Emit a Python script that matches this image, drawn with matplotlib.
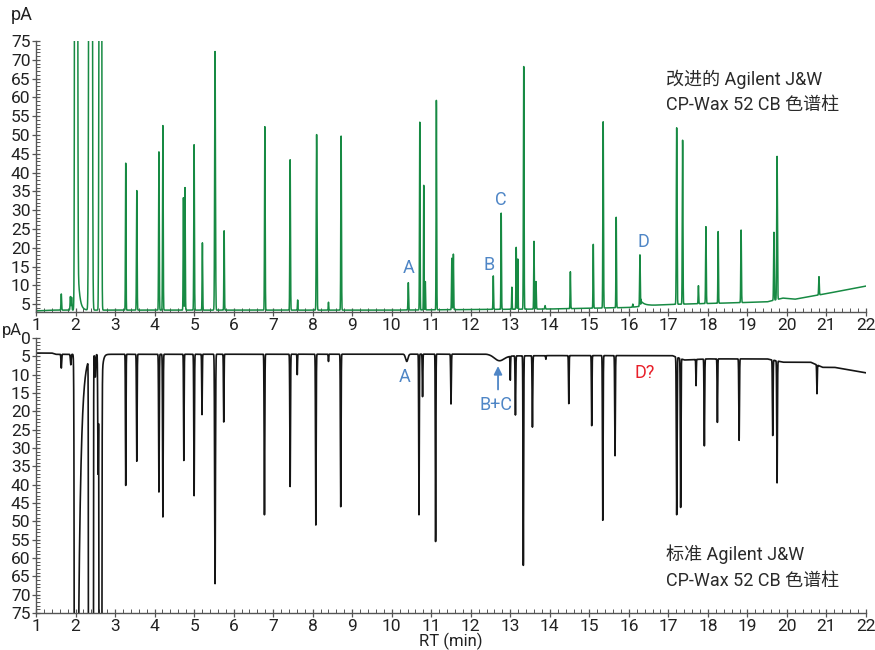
import numpy as np
import matplotlib
matplotlib.use('Agg')
import matplotlib.pyplot as plt
from matplotlib.ticker import MultipleLocator

plt.rcParams['font.family'] = ['Roboto', 'Noto Sans CJK SC', 'DejaVu Sans']

# ---- improved column (top, green) ----
top_rt = [1.64, 1.87, 1.90, 2.015, 2.38, 2.59, 2.63, 3.27, 3.55, 4.11, 4.21, 4.73, 4.77,
          5.00, 5.21, 5.53, 5.76, 6.79, 7.43, 7.62, 8.10, 8.40, 8.72, 10.42, 10.71, 10.81,
          10.85, 11.13, 11.52, 11.56, 12.57, 12.77, 13.04, 13.15, 13.19, 13.34, 13.60, 13.65,
          13.88, 14.52, 15.10, 15.35, 15.68, 16.10, 16.28, 17.21, 17.36, 17.76, 17.95, 18.26,
          18.84, 19.67, 19.75, 20.81]
top_apex = [7.7, 7.0, 6.8, 3000, 2000, 35, 2000, 42.5, 35.2, 45.5, 52.5, 33.3, 36.0,
            47.4, 21.3, 72.2, 24.5, 52.2, 43.4, 6.1, 50.1, 5.5, 49.7, 10.7, 53.4, 36.6,
            11.0, 59.2, 17.2, 18.3, 12.5, 29.2, 9.5, 20.1, 17.0, 68.2, 21.7, 11.0,
            4.6, 13.6, 20.9, 53.5, 28.1, 5.0, 18.1, 51.9, 48.6, 9.9, 25.6, 24.3,
            24.7, 24.1, 44.3, 12.3]
top_sigma = [.008, .008, .008, .016, .02, .008, .014, .007, .008, .008, .008, .007, .007,
             .008, .007, .01, .007, .008, .008, .006, .009, .006, .008, .008, .007, .006,
             .006, .007, .007, .007, .007, .007, .006, .007, .006, .008, .007, .008,
             .008, .007, .007, .008, .007, .006, .008, .009, .008, .007, .008, .007,
             .008, .008, .009, .008]
top_base_t = [1.0, 1.4, 10.0, 14.0, 16.0, 16.5, 17.0, 18.5, 19.5, 19.9, 20.2, 21.0, 22.0]
top_base_v = [3.2, 3.4, 3.4, 3.7, 4.1, 4.6, 4.9, 5.3, 5.6, 6.6, 6.3, 7.8, 9.8]
top_tail_t = [2.06, 16.30]
top_tail_h = [11.5, 1.5]
top_tail_tau = [0.045, 0.1]

# ---- standard column (bottom, black) ----
bot_rt = [1.64, 1.88, 2.015, 2.35, 2.39, 2.43, 2.50, 2.57, 2.63, 3.27, 3.55, 4.11, 4.21, 4.74,
          5.00, 5.20, 5.53, 5.75, 6.78, 7.43, 7.61, 8.08, 8.40, 8.71, 10.38, 10.69, 10.78,
          11.11, 11.50, 12.72, 13.00, 13.13, 13.33, 13.56, 13.90, 14.48, 15.06, 15.34, 15.65,
          17.21, 17.31, 17.70, 17.91, 18.24, 18.79, 19.64, 19.75, 20.76]
bot_apex = [8.2, 7.3, 3000, 3000, 3000, 3000, 10.5, 36.8, 3000, 40.2, 33.6, 42.0, 48.8, 33.4,
            43.0, 20.9, 67.0, 22.9, 48.2, 40.5, 10.0, 51.0, 6.4, 46.0, 6.4, 48.2, 16.0,
            55.5, 18.0, 6.2, 11.4, 21.0, 62.0, 24.3, 5.8, 17.9, 23.9, 49.7, 32.1,
            48.2, 46.2, 13.0, 29.4, 23.0, 27.9, 26.6, 39.5, 15.2]
bot_sigma = [.008, .01, .018, .009, .009, .009, .01, .008, .014, .007, .008, .008, .008, .007,
             .008, .007, .01, .007, .008, .008, .006, .008, .006, .008, .03, .007, .007,
             .007, .008, .12, .006, .008, .008, .008, .006, .007, .007, .008, .008,
             .009, .008, .006, .008, .007, .008, .008, .008, .007]
bot_base_t = [1.0, 1.4, 1.5, 12.4, 12.95, 14.0, 17.1, 17.4, 18.0, 19.5, 19.9, 20.6, 20.9, 21.2, 22.0]
bot_base_v = [4.1, 4.1, 4.45, 4.4, 4.9, 4.8, 4.8, 6.0, 5.7, 5.7, 6.6, 6.6, 8.0, 8.0, 9.5]
bot_tail_t = [2.04, 2.65]
bot_tail_h = [130, 12]
bot_tail_tau = [0.068, 0.03]

t = np.arange(1.0, 22.0005, 0.001)


def trace(rt, apex, sigma, bt, bv, tt, th, ttau):
    base = np.interp(t, bt, bv)
    y = base.copy()
    for r, a, s in zip(rt, apex, sigma):
        h = a - np.interp(r, bt, bv)
        y += h * np.exp(-(t - r) ** 2 / (2 * s ** 2))
    for r, h, tau in zip(tt, th, ttau):
        y += np.where(t >= r, h * np.exp(-np.clip(t - r, 0, None) / tau), 0)
    return y


y_top = trace(top_rt, top_apex, top_sigma, top_base_t, top_base_v, top_tail_t, top_tail_h, top_tail_tau)
y_bot = trace(bot_rt, bot_apex, bot_sigma, bot_base_t, bot_base_v, bot_tail_t, bot_tail_h, bot_tail_tau)

fig = plt.figure(figsize=(8.75, 6.5), dpi=100)
ax1 = fig.add_axes([36 / 875, 1 - 312 / 650, 830 / 875, 271 / 650])
ax2 = fig.add_axes([36 / 875, 1 - 613 / 650, 830 / 875, 275 / 650])

ax1.plot(t, y_top, color='#178a43', lw=1.1)
ax2.plot(t, y_bot, color='#151515', lw=1.2)

ax1.set_ylim(2.9, 75)
ax2.set_ylim(75, 0)
ax1.set_yticks(np.arange(5, 76, 5))
ax2.set_yticks(np.arange(0, 76, 5))

spine_col = '#555555'
for ax in (ax1, ax2):
    ax.set_xlim(1, 22)
    ax.set_xticks(np.arange(1, 23, 1))
    ax.xaxis.set_minor_locator(MultipleLocator(0.2))
    ax.yaxis.set_minor_locator(MultipleLocator(1))
    ax.spines['top'].set_visible(False)
    ax.spines['right'].set_visible(False)
    for s in ('left', 'bottom'):
        ax.spines[s].set_color(spine_col)
        ax.spines[s].set_linewidth(1.0)
    ax.tick_params(which='major', direction='inout', length=6, width=0.9, color=spine_col,
                   labelsize=12.5, labelcolor='#222222', pad=1)
    ax.tick_params(which='minor', direction='in', length=3, width=0.7, color=spine_col)
    ax.patch.set_alpha(0)

blue = '#4f86c6'
ax1.text(10.42, 14.6, 'A', color=blue, fontsize=13, ha='center', va='center')
ax1.text(12.47, 15.4, 'B', color=blue, fontsize=13, ha='center', va='center')
ax1.text(12.77, 32.8, 'C', color=blue, fontsize=13, ha='center', va='center')
ax1.text(16.36, 21.5, 'D', color=blue, fontsize=13, ha='center', va='center')
ax1.text(16.95, 61.5, '改进的 Agilent J&W\nCP-Wax 52 CB 色谱柱', color='#2a2a2a', fontsize=13,
         ha='left', va='center', linespacing=1.55)

ax2.text(10.34, 10.6, 'A', color=blue, fontsize=13, ha='center', va='center')
ax2.annotate('', xy=(12.69, 6.9), xytext=(12.69, 14.8),
             arrowprops=dict(arrowstyle='-|>', color=blue, lw=1.3, mutation_scale=12))
ax2.text(12.64, 18.2, 'B+C', color=blue, fontsize=13, ha='center', va='center')
ax2.text(16.41, 9.5, 'D?', color='#e8202a', fontsize=13, ha='center', va='center')
ax2.text(16.95, 62.5, '标准 Agilent J&W\nCP-Wax 52 CB 色谱柱', color='#2a2a2a', fontsize=13,
         ha='left', va='center', linespacing=1.55)

fig.text(22 / 875, 1 - 15 / 650, 'pA', fontsize=13, color='#222222', ha='center', va='center')
fig.text(12 / 875, 1 - 330 / 650, 'pA', fontsize=12, color='#222222', ha='center', va='center')
fig.text(451 / 875, 1 - 641 / 650, 'RT (min)', fontsize=12, color='#222222', ha='center', va='center')

fig.savefig('out.png', dpi=100)
